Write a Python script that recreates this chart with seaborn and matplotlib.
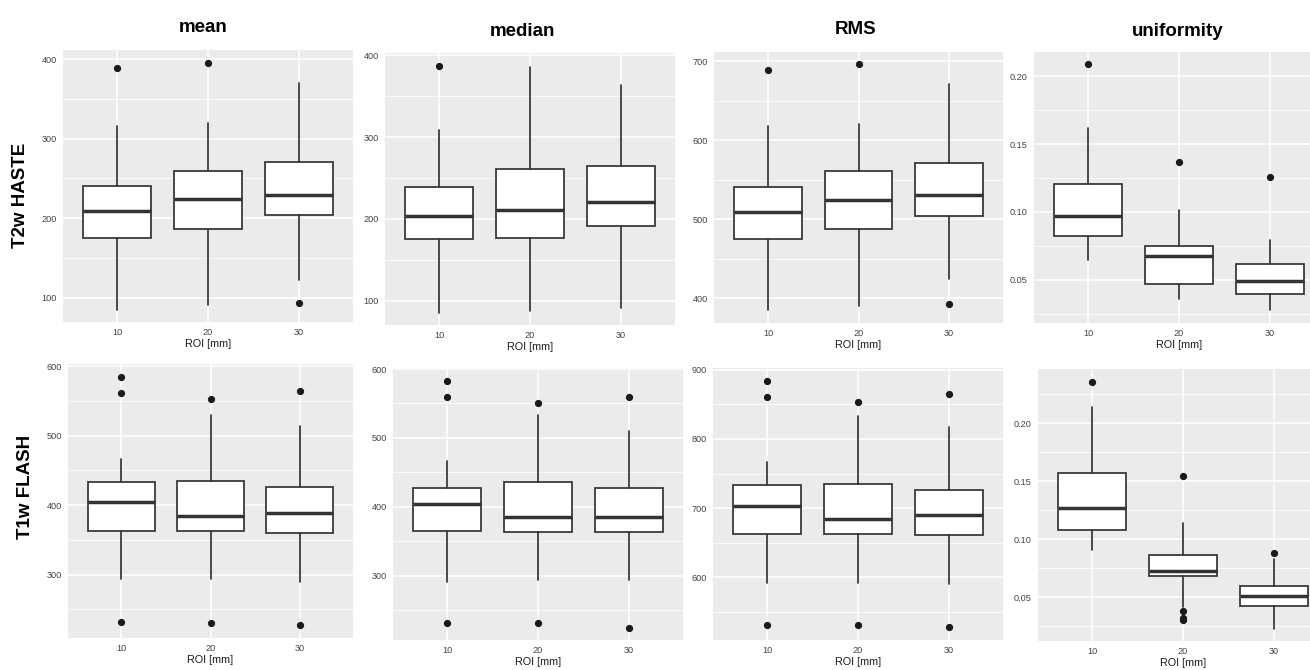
import matplotlib
matplotlib.use("Agg")
import matplotlib.pyplot as plt
import seaborn as sns
from matplotlib.ticker import MultipleLocator, FormatStrFormatter

# ROI sizes (x categories)
roi_labels = ["10", "20", "30"]
measures = ["mean", "median", "RMS", "uniformity"]
sequences = ["T2w HASTE", "T1w FLASH"]

# five-number summaries per ROI: [whisker low, Q1, median, Q3, whisker high]
haste_mean = [[84.9, 175.6, 209.2, 240.8, 316.4],
              [90.3, 186.1, 223.5, 259.7, 320.2],
              [121.8, 203.4, 229.4, 270.2, 370.6]]
haste_mean_out = [[389.5], [395.0], [93.3]]

haste_median = [[84.5, 175.1, 204.0, 239.6, 308.6],
                [87.8, 176.3, 211.4, 261.6, 385.7],
                [90.6, 191.8, 221.2, 264.9, 364.0]]
haste_median_out = [[387.3], [], []]

haste_rms = [[384.4, 475.2, 509.5, 541.1, 617.6],
             [389.9, 487.1, 524.3, 560.6, 621.0],
             [423.7, 504.0, 530.6, 571.6, 671.7]]
haste_rms_out = [[688.6], [696.2], [392.9]]

haste_unif = [[0.0645, 0.0820, 0.0966, 0.1207, 0.1616],
              [0.0360, 0.0470, 0.0675, 0.0746, 0.1012],
              [0.0273, 0.0394, 0.0488, 0.0618, 0.0796]]
haste_unif_out = [[0.2094], [0.1370], [0.1254]]

flash_mean = [[293.2, 363.3, 404.1, 432.5, 466.5],
              [293.2, 363.3, 384.4, 434.4, 529.0],
              [289.9, 360.4, 388.8, 425.7, 513.6]]
flash_mean_out = [[583.7, 560.6, 231.3], [553.0, 230.8], [563.5, 227.9]]

flash_median = [[291.2, 365.4, 403.7, 426.5, 466.7],
                [293.2, 363.9, 384.8, 436.2, 532.6],
                [293.2, 363.9, 385.7, 427.4, 509.4]]
flash_median_out = [[583.0, 559.8, 231.6], [550.6, 231.6], [559.8, 224.3]]

flash_rms = [[592.3, 663.0, 703.4, 733.2, 766.8],
             [592.3, 663.0, 684.6, 735.1, 832.7],
             [590.9, 660.6, 689.9, 726.9, 817.3]]
flash_rms_out = [[883.7, 861.0, 531.3], [853.4, 531.3], [864.4, 527.9]]

flash_unif = [[0.0905, 0.1075, 0.1270, 0.1572, 0.2138],
              [0.0417, 0.0681, 0.0724, 0.0865, 0.1141],
              [0.0221, 0.0420, 0.0506, 0.0598, 0.0828]]
flash_unif_out = [[0.2356], [0.1546, 0.0376, 0.0322, 0.0299], [0.0879]]

panels = [
    # (summary, outliers, axes box in px [left, top, right, bottom], ylim, major, minor)
    (haste_mean, haste_mean_out, [63, 50, 353, 322], (69.2, 411.7), 100, 50),
    (haste_median, haste_median_out, [385, 53, 675, 325], (70.2, 402.9), 100, 50),
    (haste_rms, haste_rms_out, [714, 52, 1003, 323], (368.4, 711.8), 100, 50),
    (haste_unif, haste_unif_out, [1034, 52, 1324, 323], (0.018, 0.218), 0.05, 0.025),
    (flash_mean, flash_mean_out, [68, 364, 353, 638], (208.7, 602.9), 100, 50),
    (flash_median, flash_median_out, [393, 368, 683, 640], (206.4, 601.5), 100, 50),
    (flash_rms, flash_rms_out, [713, 368, 1003, 640], (509.6, 902.4), 100, 50),
    (flash_unif, flash_unif_out, [1038, 369, 1328, 641], (0.0121, 0.2466), 0.05, 0.025),
]

sns.set_theme(style="darkgrid", rc={
    "axes.facecolor": "#EBEBEB",
    "grid.color": "white",
})
plt.rcParams["font.family"] = ["Liberation Sans", "DejaVu Sans"]

W, H = 1310, 670
fig = plt.figure(figsize=(W / 100, H / 100), dpi=100)

edge = "#333333"
for summary, outliers, box, ylim, major, minor in panels:
    l, t, r, b = box
    ax = fig.add_axes([l / W, 1 - b / H, (r - l) / W, (b - t) / H])
    stats = []
    for lab, (lo, q1, med, q3, hi), fl in zip(roi_labels, summary, outliers):
        stats.append({"label": lab, "whislo": lo, "q1": q1, "med": med,
                      "q3": q3, "whishi": hi, "fliers": fl})
    ax.bxp(stats, positions=[1, 2, 3], widths=0.75, showcaps=False,
           patch_artist=True,
           boxprops=dict(facecolor="white", edgecolor=edge, linewidth=1.25),
           medianprops=dict(color=edge, linewidth=2.5),
           whiskerprops=dict(color=edge, linewidth=1.25),
           flierprops=dict(marker="o", markersize=4.2, markerfacecolor="#1a1a1a",
                           markeredgecolor="#1a1a1a"))
    ax.set_xlim(0.4, 3.6)
    ax.set_ylim(*ylim)
    ax.yaxis.set_major_locator(MultipleLocator(major))
    ax.yaxis.set_minor_locator(MultipleLocator(minor))
    ax.grid(True, which="major", color="white", linewidth=1.1)
    ax.grid(True, which="minor", color="white", linewidth=0.55)
    ax.set_axisbelow(True)
    for s in ax.spines.values():
        s.set_visible(False)
    ax.tick_params(axis="both", which="major", length=2.5, width=0.8, color="#333333",
                   labelsize=6.6, labelcolor="#444444", pad=2)
    ax.tick_params(axis="both", which="minor", length=0)
    if major < 1:
        ax.yaxis.set_major_formatter(FormatStrFormatter("%.2f"))
    ax.set_xlabel("ROI [mm]", fontsize=7.8, color="#1a1a1a", labelpad=1)
    ax.set_ylabel("")

title_pos = [(203, 27), (522, 32), (856, 30), (1178, 32)]
for name, (x, y) in zip(measures, title_pos):
    fig.text(x / W, 1 - y / H, name, ha="center", va="center",
             fontsize=13.5, fontweight="bold", color="black")

row_pos = [(21, 195), (26, 487)]
for name, (x, y) in zip(sequences, row_pos):
    fig.text(x / W, 1 - y / H, name, ha="center", va="center", rotation=90,
             fontsize=13.5, fontweight="bold", color="black")

fig.savefig("out.png", dpi=100, facecolor="white")
